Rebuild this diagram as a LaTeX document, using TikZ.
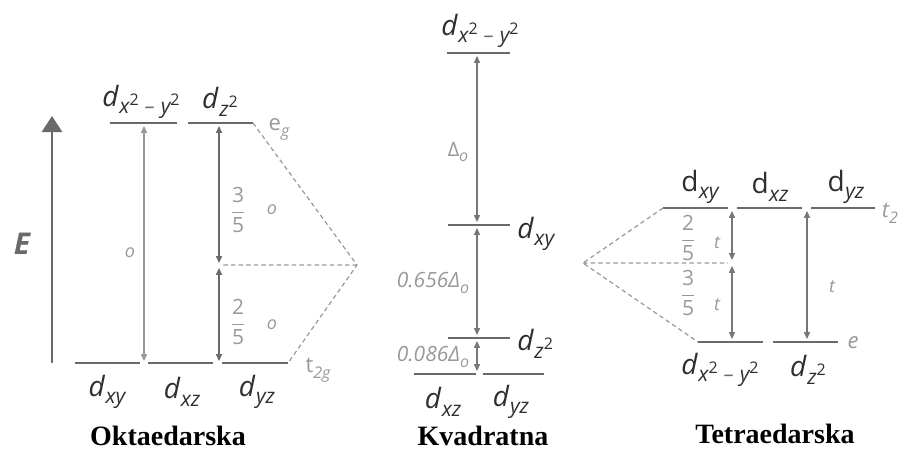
\documentclass[tikz,border=0pt]{standalone}
\usepackage{fontspec}
\setmainfont{Liberation Serif}
\newfontfamily\orbfont{Open Sans}
\usetikzlibrary{arrows.meta}

\definecolor{lev}{HTML}{6A6A6A}
\definecolor{arr}{HTML}{777777}
\definecolor{lt}{HTML}{999999}
\definecolor{ink}{HTML}{2E2E2E}

% orbital labels: italic or upright d, small italic index
\newcommand\sq{\raisebox{.75ex}{\fontsize{8}{8}\selectfont\upshape 2}}
\newcommand\dorb[1]{\textit{d}\kern.2pt\raisebox{-.5ex}{\fontsize{10.5}{11}\selectfont\itshape #1}}
\newcommand\dup[1]{d\kern.2pt\raisebox{-.5ex}{\fontsize{10.5}{11}\selectfont\itshape #1}}
\newcommand\xyq{x\sq\kern3pt{\color{lev}–}\kern3pt y\sq}
\newcommand\frc[2]{${\displaystyle\frac{\mbox{#1}}{\mbox{#2}}}$}

\begin{document}
\begin{tikzpicture}[x=.5pt,y=-.5pt,
  level/.style={draw=lev,line width=1.1pt},
  split/.style={draw=lt,line width=.6pt,dash pattern=on 2.2pt off 1.6pt},
  gap/.style={draw=arr,line width=.6pt,
    {Triangle[length=3.4pt,width=3pt]}-{Triangle[length=3.4pt,width=3pt]}},
  orb/.style={text=ink,font=\orbfont\fontsize{14}{16}\selectfont,inner sep=0pt},
  tag/.style={text=lt,font=\orbfont\itshape\fontsize{9}{10}\selectfont,inner sep=0pt},
  frac/.style={text=lt,font=\orbfont\fontsize{10.5}{11}\selectfont,inner sep=0pt},
  title/.style={font=\bfseries\fontsize{14}{16}\selectfont,inner sep=0pt}]
  \useasboundingbox (0,0) rectangle (905,450);

  % --- Oktaedarska ---
  \coordinate (Ebot) at (52,363);
  \coordinate (Etop) at (52,116);
  \draw[draw=lev,line width=1.4pt,-{Triangle[length=8pt,width=10pt]}] (Ebot)--(Etop);
  \node[text=lev,font=\orbfont\bfseries\itshape\fontsize{15}{16}\selectfont] (E) at (22,244) {E};

  \coordinate (egL) at (110,123); \coordinate (egM) at (177,123);
  \coordinate (egN) at (188,123); \coordinate (egR) at (253,123);
  \coordinate (tgL) at (75,363);  \coordinate (tgR) at (288,363);
  \coordinate (oB) at (357,265);  \coordinate (oBL) at (220,265);
  \draw[level] (egL)--(egM) (egN)--(egR);
  \draw[level] (tgL)--(140,363) (148,363)--(213,363) (222,363)--(tgR);
  \draw[split] (egR)--(oB)--(tgR) (oB)--(oBL);

  \coordinate (o1t) at (144,126); \coordinate (o1b) at (144,361);
  \coordinate (o2t) at (219,126); \coordinate (o2m) at (219,263);
  \coordinate (o3t) at (219,268); \coordinate (o3b) at (219,361);
  \draw[gap,draw=lt] (o1t)--(o1b);
  \draw[gap,draw=lev] (o2t)--(o2m);
  \draw[gap,draw=lev] (o3t)--(o3b);

  \node[orb] (oxy2) at (141,102) {\dorb{\xyq}};
  \node[orb] (oz2) at (220,102) {\dorb{z\sq}};
  \node[tag,font=\orbfont\fontsize{11}{12}\selectfont] (oeg) at (279,129) {e\raisebox{-.5ex}{\fontsize{8}{8}\selectfont\itshape g}};
  \node[tag,font=\orbfont\fontsize{11}{12}\selectfont] (ot2g) at (318,370) {t\raisebox{-.5ex}{\fontsize{8}{8}\selectfont\itshape 2g}};
  \node[orb] (oxy) at (107,392) {\dorb{xy}};
  \node[orb] (oxz) at (182,392) {\dorb{xz}};
  \node[orb] (oyz) at (257,392) {\dorb{yz}};
  \node[tag] (oD) at (130,253) {o};
  \node[frac] (o35) at (238,210) {\frc{3}{5}};
  \node[tag] (o35o) at (272,210) {o};
  \node[frac] (o25) at (238,322) {\frc{2}{5}};
  \node[tag] (o25o) at (272,325) {o};
  \node[title] (okt) at (168,436) {Oktaedarska};

  % --- Kvadratna ---
  \coordinate (k1t) at (477,56);  \coordinate (k1b) at (477,222);
  \coordinate (k2t) at (477,228); \coordinate (k2b) at (477,335);
  \coordinate (k3t) at (477,341); \coordinate (k3b) at (477,371);
  \draw[level] (447,53)--(510,53) (448,225)--(510,225) (448,338)--(510,338);
  \draw[level] (414,374)--(476,374) (483,374)--(544,374);
  \draw[gap] (k1t)--(k1b);
  \draw[gap] (k2t)--(k2b);
  \draw[gap] (k3t)--(k3b);
  \node[orb] (kxy2) at (480,31) {\dorb{\xyq}};
  \node[orb,anchor=west] (kxy) at (517,234) {\dorb{xy}};
  \node[orb,anchor=west] (kz2) at (517,344) {\dorb{z\sq}};
  \node[orb] (kxz) at (443,402) {\dorb{xz}};
  \node[orb] (kyz) at (511,402) {\dorb{yz}};
  \node[tag,font=\orbfont\fontsize{10}{11}\selectfont] (kD1) at (458,152) {Δ\raisebox{-.5ex}{\fontsize{8}{8}\selectfont\itshape o}};
  \node[tag,font=\orbfont\itshape\fontsize{10.5}{11}\selectfont] (kD2) at (433,283) {0.656Δ\raisebox{-.5ex}{\fontsize{8}{8}\selectfont o}};
  \node[tag,font=\orbfont\itshape\fontsize{10.5}{11}\selectfont] (kD3) at (433,357) {0.086Δ\raisebox{-.5ex}{\fontsize{8}{8}\selectfont o}};
  \node[title] (kva) at (483,436) {Kvadratna};

  % --- Tetraedarska ---
  \coordinate (t2L) at (663,208); \coordinate (t2R) at (875,208);
  \coordinate (tB) at (583,263);  \coordinate (tBR) at (728,263);
  \coordinate (teL) at (698,342); \coordinate (teR) at (838,342);
  \draw[level] (t2L)--(728,208) (737,208)--(802,208) (811,208)--(t2R);
  \draw[level] (teL)--(763,342) (773,342)--(teR);
  \draw[split] (t2L)--(tB)--(teL) (tB)--(tBR);
  \coordinate (t1t) at (732,211); \coordinate (t1b) at (732,260);
  \coordinate (t2t) at (732,266); \coordinate (t2b) at (732,339);
  \coordinate (t3t) at (807,211); \coordinate (t3b) at (807,339);
  \draw[gap] (t1t)--(t1b);
  \draw[gap] (t2t)--(t2b);
  \draw[gap] (t3t)--(t3b);
  \node[orb] (txy) at (700,187) {\dup{xy}};
  \node[orb] (txz) at (770,187) {\dup{xz}};
  \node[orb] (tyz) at (846,187) {\dup{yz}};
  \node[tag,font=\orbfont\itshape\fontsize{11}{12}\selectfont] (tt2) at (890,213) {t\raisebox{-.5ex}{\fontsize{8}{8}\selectfont 2}};
  \node[tag,font=\orbfont\itshape\fontsize{11}{12}\selectfont] (te) at (853,343) {e};
  \node[orb] (txy2) at (720,370) {\dorb{\xyq}};
  \node[orb] (tz2) at (808,370) {\dorb{z\sq}};
  \node[frac] (t25) at (688,238) {\frc{2}{5}};
  \node[tag] (t25t) at (717,243) {t};
  \node[frac] (t35) at (688,293) {\frc{3}{5}};
  \node[tag] (t35t) at (717,305) {t};
  \node[tag] (t3) at (832,287) {t};
  \node[title] (tet) at (775,434) {Tetraedarska};
\end{tikzpicture}
\end{document}
